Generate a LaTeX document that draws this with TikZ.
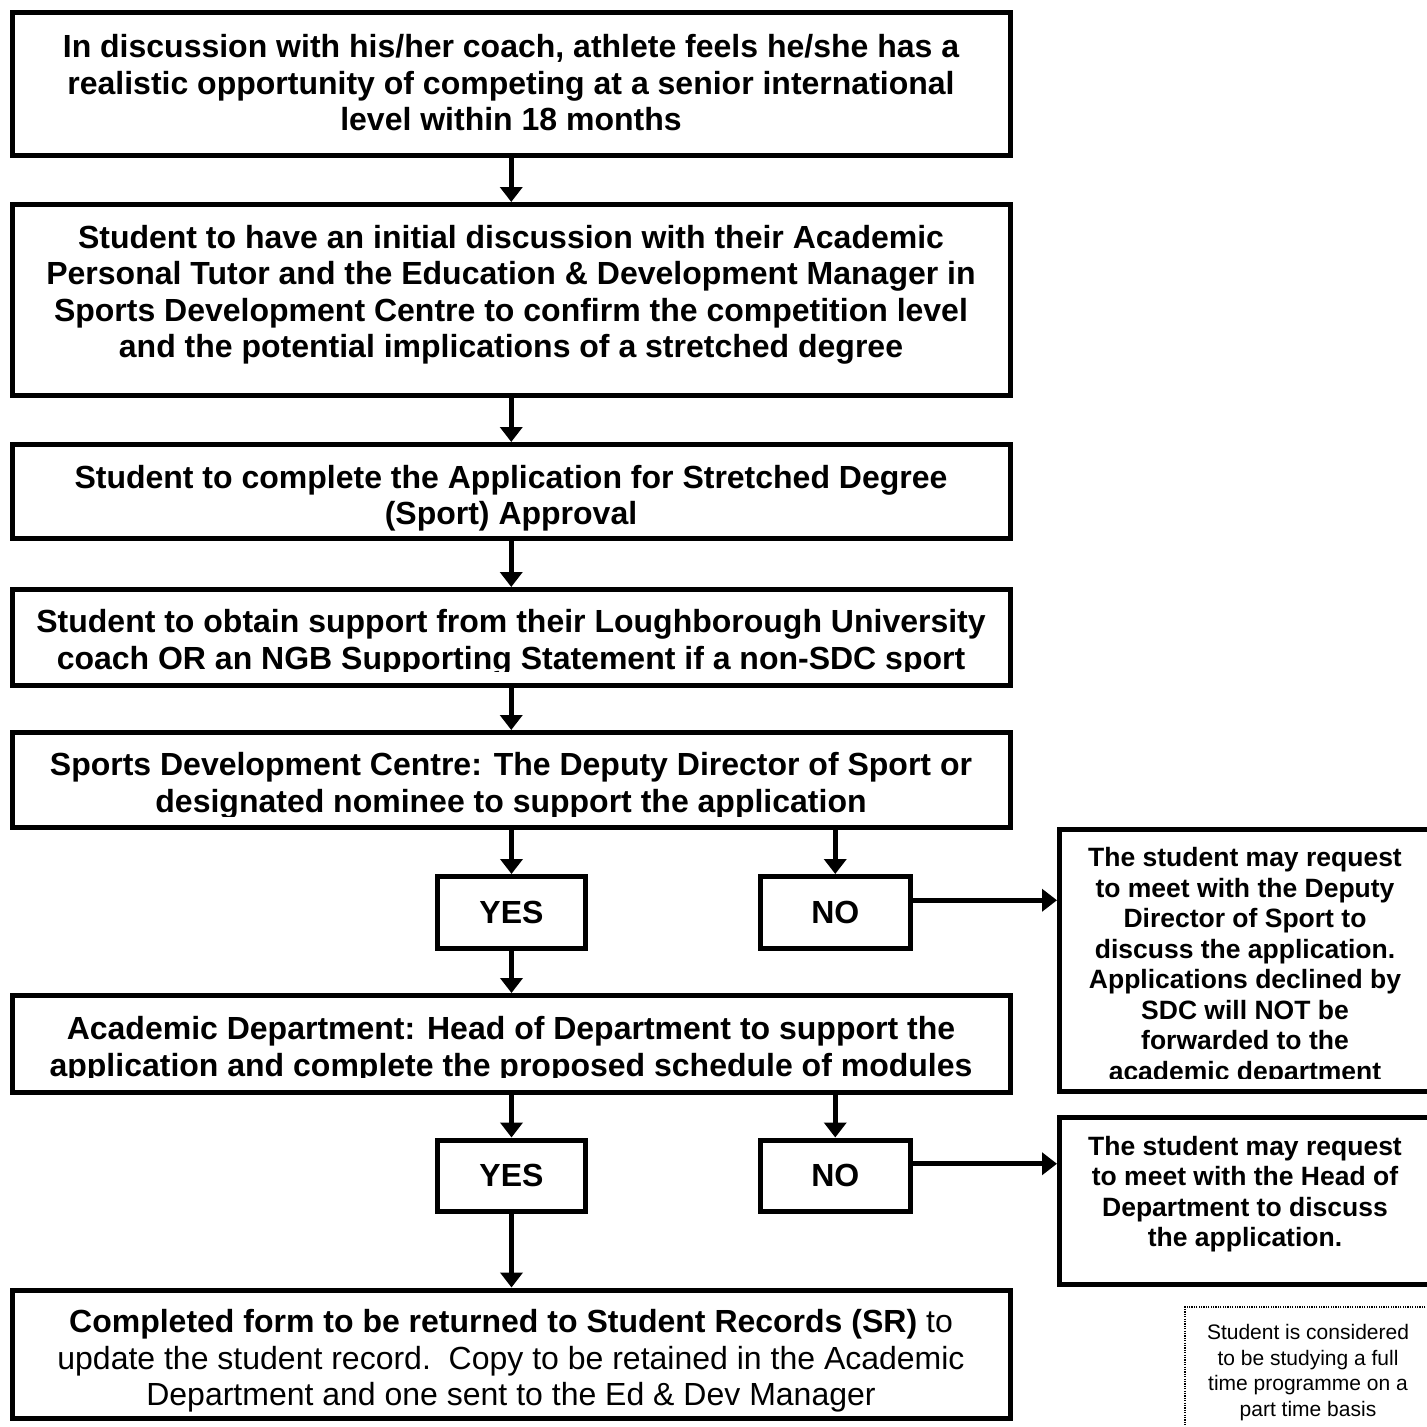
\documentclass[tikz,border=0pt]{standalone}
\usepackage{fontspec}
\setmainfont{Liberation Sans}
\usetikzlibrary{arrows.meta,fit}
\begin{document}
\begin{tikzpicture}[x=1pt,y=-1pt,
  box/.style={draw, line width=5pt, inner sep=0pt},
  choice/.style={draw, line width=5pt, inner sep=0pt, minimum width=148pt, minimum height=71.5pt, font=\fontsize{32}{36.5}\selectfont\bfseries},
  txt/.style={align=center, font=\fontsize{32}{36.5}\selectfont\bfseries, inner sep=0pt},
  sidetxt/.style={align=center, font=\fontsize{26.5}{30.5}\selectfont\bfseries, inner sep=0pt},
  plaintxt/.style={align=center, font=\fontsize{32}{36.5}\selectfont, inner sep=0pt},
  notebox/.style={draw, line width=1.2pt, dash pattern=on 1.2pt off 1.2pt, inner sep=0pt},
  notetxt/.style={align=center, font=\fontsize{21}{25.5}\selectfont, inner sep=0pt},
  arr/.style={line width=5pt, -{Triangle[width=22pt,length=15pt]}},
]
\useasboundingbox[fill=white] (0,0) rectangle (1427,1427);

% boxes
\node[box, fit={(12.5,12) (1010,155.5)}] (b1) {};
\node[box, fit={(12.5,204.5) (1010,395.5)}] (b2) {};
\node[box, fit={(12.5,444.5) (1010,538)}] (b3) {};
\node[box, fit={(12.5,589.5) (1010,685.5)}] (b4) {};
\node[box, fit={(12.5,732.5) (1010,827.5)}] (b5) {};
\node[choice] (y1) at (511.5,912.25) {YES};
\node[choice, minimum width=149.5pt] (n1) at (835.25,912.25) {NO};
\node[box, fit={(1059.5,829.5) (1431,1091.5)}] (r1) {};
\node[box, fit={(12.5,995.5) (1010,1092.5)}] (b6) {};
\node[choice] (y2) at (511.5,1175.75) {YES};
\node[choice, minimum width=149.5pt] (n2) at (835.25,1175.75) {NO};
\node[box, fit={(1059.5,1117.5) (1431,1284.5)}] (r2) {};
\node[box, fit={(12.5,1290) (1010,1418.5)}] (b7) {};
\node[notebox, fit={(1185,1307) (1445,1445)}] (nb) {};

% texts
\node[txt] (t1) at (511,83) {In discussion with his/her coach, athlete feels he/she has a\\realistic opportunity of competing at a senior international\\level within 18 months};
\node[txt] (t2) at (511,295) {Student to have an initial discussion with their Academic\\Personal Tutor and the Education \& Development Manager in\\Sports Development Centre to confirm the competition level\\and the potential implications of a stretched degree};
\node[txt] (t3) at (511,498) {Student to complete the Application for Stretched Degree\\(Sport) Approval};
\begin{scope}
\clip (0,560) rectangle (1427,671);
\node[txt] (t4) at (511,643) {Student to obtain support from their Loughborough University\\coach OR an NGB Supporting Statement if a non-SDC sport};
\end{scope}
\begin{scope}
\clip (0,740) rectangle (1427,816);
\node[txt] (t5) at (511,786) {Sports Development Centre: The Deputy Director of Sport or\\designated nominee to support the application};
\end{scope}
\begin{scope}
\clip (0,1000) rectangle (1427,1077);
\node[txt] (t6) at (511,1049.5) {Academic Department: Head of Department to support the\\application and complete the proposed schedule of modules};
\end{scope}
\begin{scope}
\clip (1000,835) rectangle (1427,1078);
\node[sidetxt] (tr1) at (1245,966.5) {The student may request\\to meet with the Deputy\\Director of Sport to\\discuss the application.\\Applications declined by\\SDC will NOT be\\forwarded to the\\academic department};
\end{scope}
\node[sidetxt] (tr2) at (1245,1194) {The student may request\\to meet with the Head of\\Department to discuss\\the application.};
\node[plaintxt] (t7) at (511,1361) {\textbf{Completed form to be returned to Student Records (SR)} to\\update the student record.\ \ Copy to be retained in the Academic\\Department and one sent to the Ed \& Dev Manager};
\node[notetxt] (tn) at (1308,1372.5) {Student is considered\\to be studying a full\\time programme on a\\part time basis};

% connectors
\draw[arr] (b1.south) -- (b2.north);
\draw[arr] (b2.south) -- (b3.north);
\draw[arr] (b3.south) -- (b4.north);
\draw[arr] (b4.south) -- (b5.north);
\draw[arr] (y1.north |- b5.south) -- (y1.north);
\draw[arr] (n1.north |- b5.south) -- (n1.north);
\draw[arr] ([yshift=12pt]n1.east) -- ([yshift=12pt]n1.east -| r1.west);
\draw[arr] (y1.south) -- (y1.south |- b6.north);
\draw[arr] (y2.north |- b6.south) -- (y2.north);
\draw[arr] (n2.north |- b6.south) -- (n2.north);
\draw[arr] ([yshift=12pt]n2.east) -- ([yshift=12pt]n2.east -| r2.west);
\draw[arr] (y2.south) -- (y2.south |- b7.north);
\end{tikzpicture}
\end{document}
